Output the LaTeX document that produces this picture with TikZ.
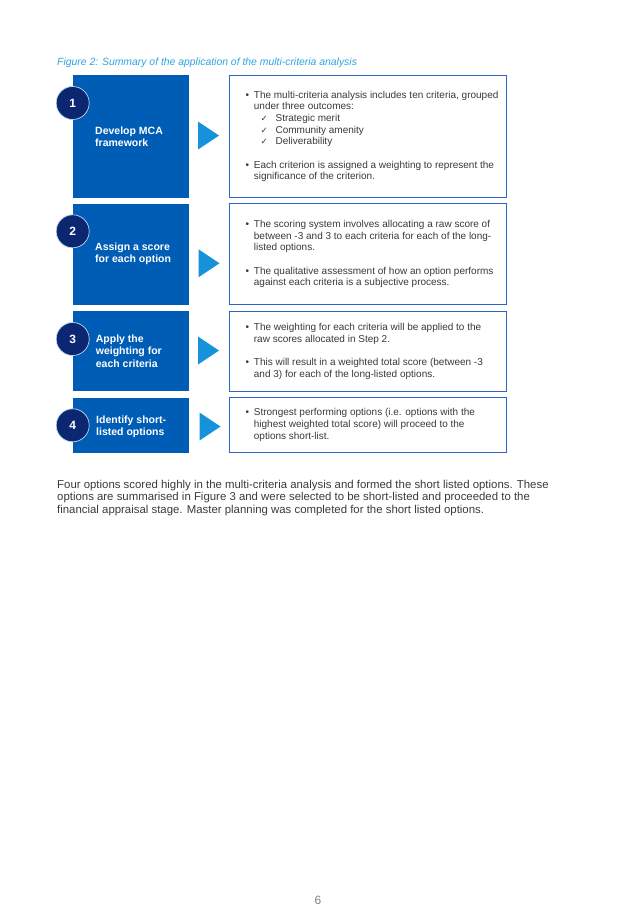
\documentclass[tikz,border=0pt]{standalone}
\usepackage{fontspec}
\setmainfont{Liberation Sans}
\newfontfamily\symfont{DejaVu Sans}
\usepackage{tikz}
\usetikzlibrary{positioning}
\definecolor{kblue}{HTML}{005DB6}
\definecolor{knavy}{HTML}{0C2772}
\definecolor{klight}{HTML}{1592D9}
\definecolor{kframe}{HTML}{2B66C0}
\definecolor{kcap}{HTML}{2EA3DD}
\definecolor{ktext}{HTML}{3A3A3A}
\newcommand{\bul}{\makebox[8.3pt][l]{\textbullet}}
\newcommand{\ind}{\hspace*{8.3pt}}
\newcommand{\tick}{\hspace*{6.7pt}\makebox[15pt][l]{\symfont\fontsize{8.5}{8.5}\selectfont ✓}}
\newcommand{\steparrow}[2]{\fill[klight] (#1,#2) ++(-10.5,-14) -- ++(21,14) -- ++(-21,14) -- cycle;}

\begin{document}
\begin{tikzpicture}[x=1pt,y=-1pt,
		stepbox/.style={fill=kblue, minimum width=116.3pt, inner sep=0pt, anchor=north west},
		descbox/.style={draw=kframe, line width=1.2pt, fill=white, minimum width=277pt, inner sep=0pt},
		numcirc/.style={circle, fill=knavy, draw=white!75!kblue, line width=0.7pt, minimum size=33pt, inner sep=0pt,
			text=white, font=\fontsize{12}{12}\selectfont\bfseries},
		steptext/.style={anchor=west, align=left, text=white, inner sep=0pt, font=\fontsize{10.5}{12.2}\selectfont\bfseries},
		desctext/.style={anchor=west, align=left, text=ktext, inner sep=0pt, font=\fontsize{10}{11.7}\selectfont}]
	\useasboundingbox (0,0) rectangle (637,924);
	\node[anchor=base west, inner sep=0pt, text=kcap, font=\fontsize{10.4}{11}\selectfont\itshape] (caption) at (57,65)
		{Figure 2: Summary of the application of the multi-criteria analysis};

	\node[stepbox, minimum height=122.5pt] (step1) at (72.7,75) {};
	\node[stepbox, minimum height=101pt] (step2) at (72.7,203.3) {};
	\node[stepbox, minimum height=80pt] (step3) at (72.7,311) {};
	\node[stepbox, minimum height=55pt] (step4) at (72.7,397.3) {};

	\foreach \s/\h in {1/122.5,2/101,3/80,4/55}
		\node[descbox, minimum height=\h pt, right=39.5pt of step\s] (desc\s) {};

	\foreach \s in {1,2,3,4}
		\node[numcirc] (num\s) at ([yshift=-28pt]step\s.north west) {\s};

	\node[steptext] (lab1) at ([xshift=22.3pt]step1.west) {Develop MCA\\framework};
	\node[steptext] (lab2) at ([xshift=22.3pt]step2.west) {Assign a score\\for each option};
	\node[steptext] (lab3) at ([xshift=23pt]step3.west) {Apply the\\weighting for\\each criteria};
	\node[steptext] (lab4) at ([xshift=23.3pt,yshift=-1.5pt]step4.west) {Identify short-\\listed options};

	\steparrow{208.5}{135.5}
	\steparrow{209}{263.3}
	\steparrow{208.5}{350.5}
	\steparrow{210}{426.5}

	\node[desctext] (txt1) at ([xshift=16.5pt]desc1.west) {\bul The multi-criteria analysis includes ten criteria, grouped\\
		\ind under three outcomes:\\
		\ind\tick Strategic merit\\
		\ind\tick Community amenity\\
		\ind\tick Deliverability\\[11.7pt]
		\bul Each criterion is assigned a weighting to represent the\\
		\ind significance of the criterion.};
	\node[desctext] (txt2) at ([xshift=16.5pt]desc2.west) {\bul The scoring system involves allocating a raw score of\\
		\ind between -3 and 3 to each criteria for each of the long-\\
		\ind listed options.\\[11.7pt]
		\bul The qualitative assessment of how an option performs\\
		\ind against each criteria is a subjective process.};
	\node[desctext] (txt3) at ([xshift=16.5pt]desc3.west) {\bul The weighting for each criteria will be applied to the\\
		\ind raw scores allocated in Step 2.\\[11.7pt]
		\bul This will result in a weighted total score (between -3\\
		\ind and 3) for each of the long-listed options.};
	\node[desctext] (txt4) at ([xshift=16.5pt]desc4.west) {\bul Strongest performing options (i.e. options with the\\
		\ind highest weighted total score) will proceed to the\\
		\ind options short-list.};

	\node[anchor=west, align=left, inner sep=0pt, text=ktext, font=\fontsize{11.4}{12.3}\selectfont] (body) at (57,498)
		{Four options scored highly in the multi-criteria analysis and formed the short listed options. These\\
		options are summarised in Figure 3 and were selected to be short-listed and proceeded to the\\
		financial appraisal stage. Master planning was completed for the short listed options.};
	\node[text=black!50, inner sep=0pt, font=\fontsize{12}{12}\selectfont] (page) at (318,900) {6};
\end{tikzpicture}
\end{document}
